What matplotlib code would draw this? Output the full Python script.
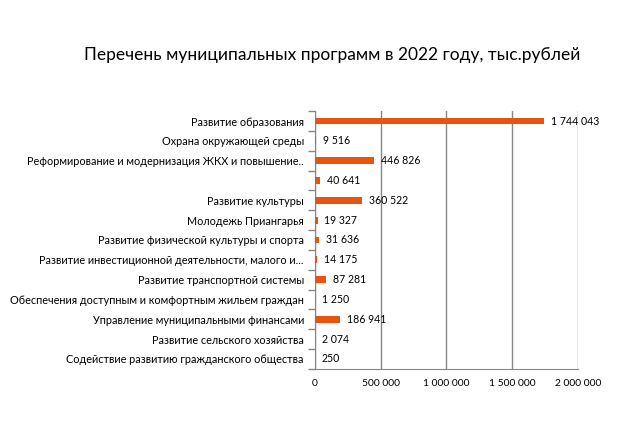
import matplotlib
matplotlib.use("Agg")
import matplotlib.pyplot as plt
from matplotlib.ticker import FixedLocator, FuncFormatter

categories = [
    "Развитие образования",
    "Охрана окружающей среды",
    "Реформирование и модернизация ЖКХ и повышение..",
    "",
    "Развитие культуры",
    "Молодежь Приангарья",
    "Развитие физической культуры и спорта",
    "Развитие инвестиционной деятельности, малого и...",
    "Развитие транспортной системы",
    "Обеспечения доступным и комфортным жильем граждан",
    "Управление муниципальными финансами",
    "Развитие сельского хозяйства",
    "Содействие развитию гражданского общества",
]
values = [1744043, 9516, 446826, 40641, 360522, 19327, 31636, 14175, 87281, 1250, 186941, 2074, 250]
xticks = [0, 500000, 1000000, 1500000, 2000000]
title = "Перечень муниципальных программ в 2022 году, тыс.рублей"

def fmt(v):
    return f"{int(v):,}".replace(",", " ")

plt.rcParams['font.family'] = ['Lato', 'DejaVu Sans']

fig = plt.figure(figsize=(6.3, 4.24), dpi=100)
ax = fig.add_axes([0.5, 0.130, 0.417, 0.608])

n = len(categories)
ys = list(range(n))
ax.barh(ys, values, height=0.35, color="#E8540F", zorder=3)
ax.set_ylim(n - 0.5, -0.5)
ax.set_xlim(0, 2000000)

for y, v in zip(ys, values):
    ax.annotate(fmt(v), (v, y), xytext=(5, 0), textcoords="offset points",
                va="center", ha="left", fontsize=7.6, color="black", zorder=4)

ax.set_yticks(ys)
ax.set_yticklabels(categories, fontsize=7.85)
ax.yaxis.set_minor_locator(FixedLocator([i - 0.5 for i in range(n + 1)]))
ax.tick_params(axis="y", which="major", length=0, pad=8)
ax.tick_params(axis="y", which="minor", length=5, color="#868686", width=1)

ax.xaxis.set_major_locator(FixedLocator(xticks))
ax.xaxis.set_major_formatter(FuncFormatter(lambda v, p: fmt(v)))
ax.tick_params(axis="x", length=0, labelsize=7.4, pad=7)
ax.grid(axis="x", color="#868686", linewidth=1, zorder=0)

for s in ["top", "right"]:
    ax.spines[s].set_visible(False)
ax.spines["left"].set_color("#868686")
ax.spines["bottom"].set_color("#868686")

fig.text(0.527, 0.870, title, ha="center", va="center", fontsize=12.5)

fig.savefig("out.png", dpi=100, facecolor="white")
